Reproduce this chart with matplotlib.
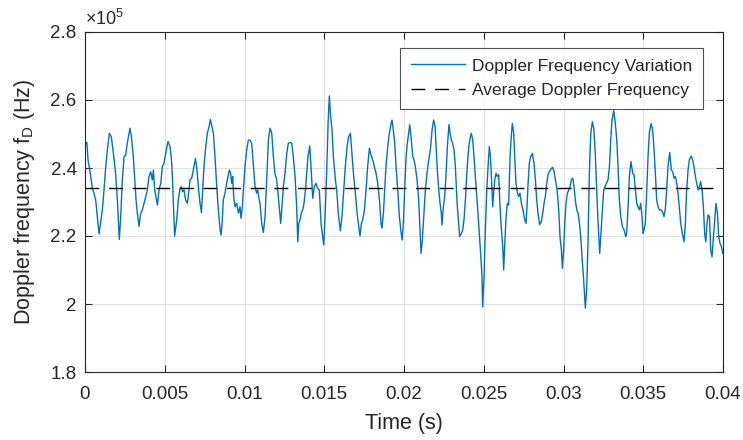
import numpy as np
import matplotlib
matplotlib.use("Agg")
import matplotlib.pyplot as plt
from matplotlib.ticker import FuncFormatter, FixedLocator

# ---- data (time in ms, frequency in units of 1e5 Hz) ----
time_ms = [
    0.00, 0.04, 0.12, 0.19, 0.36, 0.46, 0.56, 0.67, 0.77, 0.88, 1.09, 1.19, 1.30, 1.40, 1.53,
    1.65, 1.78, 1.92, 2.03, 2.15, 2.24, 2.34, 2.45, 2.55, 2.65, 2.82, 2.91, 3.03, 3.11, 3.20,
    3.28, 3.39, 3.49, 3.60, 3.70, 3.80, 3.91, 4.01, 4.12, 4.22, 4.29, 4.37, 4.45, 4.54, 4.64,
    4.75, 4.85, 4.95, 5.06, 5.20, 5.33, 5.41, 5.48, 5.54, 5.62, 5.75, 5.85, 5.96, 6.04, 6.12,
    6.21, 6.31, 6.42, 6.52,
    6.58, 6.69, 6.79, 6.92, 7.00, 7.11, 7.21, 7.30, 7.38, 7.46, 7.57, 7.67, 7.78, 7.86, 7.96,
    8.05, 8.15, 8.26, 8.36, 8.47, 8.53, 8.61, 8.67, 8.78, 8.88, 8.97, 9.05, 9.13, 9.20, 9.26,
    9.32, 9.41, 9.51, 9.62, 9.72, 9.78, 9.87, 9.93, 10.03, 10.14, 10.24, 10.35, 10.45, 10.56,
    10.66, 10.76, 10.83, 10.89, 10.97, 11.08, 11.18, 11.29, 11.39, 11.50, 11.60, 11.71, 11.81,
    11.91, 12.02, 12.12, 12.23, 12.27, 12.35, 12.44, 12.54, 12.65, 12.75, 12.85, 12.96, 13.06,
    13.17, 13.27,
    13.34, 13.40, 13.48, 13.56, 13.65, 13.73, 13.82, 13.90, 13.98, 14.09, 14.17, 14.28, 14.38,
    14.48, 14.59, 14.69, 14.80, 14.90, 14.97, 15.05, 15.15, 15.24, 15.32, 15.40, 15.49, 15.57,
    15.70, 15.78, 15.88, 16.01, 16.11, 16.22, 16.32, 16.43, 16.53, 16.64, 16.72, 16.83, 16.95,
    17.06, 17.16, 17.24, 17.33, 17.41, 17.52, 17.62, 17.72, 17.83, 17.93, 18.04, 18.14, 18.25,
    18.35, 18.46, 18.56, 18.62, 18.71, 18.79, 18.87, 18.98, 19.08, 19.19, 19.25, 19.33, 19.42,
    19.50, 19.61, 19.71, 19.81,
    19.88, 19.96, 20.04, 20.13, 20.21, 20.29, 20.36, 20.44, 20.55, 20.63, 20.71, 20.82, 20.92,
    21.01, 21.07, 21.15, 21.24, 21.34, 21.44, 21.55, 21.65, 21.76, 21.86, 21.95, 22.01, 22.09,
    22.18, 22.26, 22.34, 22.38, 22.47, 22.55, 22.64, 22.72, 22.82, 22.89, 22.97, 23.05, 23.14,
    23.22, 23.33, 23.43, 23.49, 23.60, 23.68, 23.76, 23.85, 23.95, 24.06, 24.16, 24.22, 24.31,
    24.39, 24.47, 24.58, 24.68, 24.79, 24.89, 24.93, 25.02, 25.10, 25.19, 25.27, 25.35, 25.42,
    25.48, 25.56, 25.62, 25.69, 25.77, 25.85, 25.94, 26.00, 26.08, 26.19, 26.25, 26.31, 26.40,
    26.48, 26.56,
    26.59, 26.65, 26.71, 26.79, 26.88, 26.94, 27.02, 27.11, 27.19, 27.27, 27.36, 27.46, 27.57,
    27.65, 27.71, 27.78, 27.86, 27.94, 28.05, 28.15, 28.24, 28.32, 28.40, 28.51, 28.61, 28.70,
    28.78, 28.86, 28.95, 29.03, 29.11, 29.24, 29.32, 29.41, 29.49, 29.60, 29.70, 29.78, 29.87,
    29.93, 30.01, 30.08, 30.16, 30.24, 30.33, 30.41, 30.49, 30.58, 30.66, 30.74, 30.83, 30.91,
    31.00, 31.08, 31.16, 31.25, 31.33, 31.37, 31.45, 31.54, 31.62, 31.71, 31.81, 31.91, 32.00,
    32.08, 32.17, 32.27, 32.35, 32.44, 32.52, 32.60, 32.69, 32.79, 32.88, 32.96, 33.04, 33.15,
    33.25, 33.34, 33.42, 33.50, 33.59, 33.69, 33.80, 33.90, 33.96, 34.05, 34.13, 34.23, 34.34,
    34.42, 34.51, 34.59, 34.67, 34.76, 34.84, 34.92, 34.99, 35.05, 35.13, 35.22, 35.30, 35.38,
    35.49, 35.59, 35.68, 35.76, 35.84, 35.93, 36.01, 36.09, 36.20, 36.30, 36.39, 36.47, 36.55,
    36.66, 36.76, 36.85, 36.93, 37.01, 37.10, 37.18, 37.26, 37.35, 37.45, 37.56, 37.64, 37.72,
    37.81, 37.89, 38.00, 38.10, 38.18, 38.27, 38.35, 38.44, 38.52, 38.60, 38.69, 38.77, 38.85,
    38.92, 39.00, 39.06, 39.15, 39.23, 39.31, 39.40, 39.48, 39.56, 39.65, 39.73, 39.81, 39.90,
    39.98,
]
freq_1e5 = [
    2.450, 2.475, 2.475, 2.424, 2.375, 2.340, 2.326, 2.306, 2.257, 2.206, 2.277, 2.335, 2.404,
    2.453, 2.502, 2.492, 2.443, 2.384, 2.306, 2.190, 2.257, 2.365, 2.433, 2.438, 2.473, 2.517,
    2.492, 2.433, 2.375, 2.306, 2.267, 2.228, 2.267, 2.277, 2.296, 2.316, 2.335, 2.375, 2.389,
    2.365, 2.394, 2.335, 2.316, 2.291, 2.335, 2.355, 2.404, 2.414, 2.443, 2.478, 2.463, 2.433,
    2.375, 2.296, 2.200, 2.247, 2.306, 2.340, 2.345, 2.330, 2.335, 2.306, 2.296, 2.335,
    2.365, 2.370, 2.394, 2.428, 2.404, 2.345, 2.296, 2.269, 2.335, 2.404, 2.463, 2.502, 2.522,
    2.543, 2.522, 2.502, 2.433, 2.345, 2.277, 2.218, 2.203, 2.247, 2.306, 2.326, 2.355, 2.375,
    2.394, 2.384, 2.355, 2.375, 2.316, 2.286, 2.296, 2.267, 2.286, 2.252, 2.286, 2.335, 2.404,
    2.453, 2.482, 2.482, 2.473, 2.404, 2.345, 2.326, 2.335, 2.316, 2.296, 2.237, 2.210, 2.257,
    2.365, 2.482, 2.517, 2.502, 2.433, 2.384, 2.365, 2.316, 2.257, 2.237, 2.286, 2.345, 2.384,
    2.443, 2.473, 2.475, 2.473, 2.433, 2.375, 2.286,
    2.183, 2.237, 2.247, 2.267, 2.277, 2.296, 2.335, 2.384, 2.433, 2.465, 2.404, 2.311, 2.345,
    2.355, 2.340, 2.335, 2.237, 2.198, 2.174, 2.257, 2.384, 2.531, 2.612, 2.551, 2.512, 2.433,
    2.365, 2.335, 2.267, 2.215, 2.257, 2.335, 2.404, 2.463, 2.492, 2.502, 2.453, 2.384, 2.326,
    2.267, 2.228, 2.200, 2.237, 2.247, 2.277, 2.335, 2.404, 2.458, 2.438, 2.424, 2.404, 2.384,
    2.355, 2.306, 2.237, 2.223, 2.267, 2.335, 2.404, 2.463, 2.502, 2.531, 2.541, 2.512, 2.473,
    2.404, 2.335, 2.257, 2.213,
    2.188, 2.237, 2.335, 2.433, 2.473, 2.502, 2.527, 2.492, 2.433, 2.424, 2.404, 2.365, 2.306,
    2.208, 2.149, 2.188, 2.257, 2.335, 2.384, 2.424, 2.453, 2.512, 2.541, 2.522, 2.463, 2.394,
    2.335, 2.296, 2.267, 2.232, 2.286, 2.316, 2.384, 2.463, 2.528, 2.502, 2.482, 2.473, 2.453,
    2.404, 2.296, 2.237, 2.198, 2.208, 2.218, 2.247, 2.306, 2.394, 2.463, 2.492, 2.502, 2.482,
    2.433, 2.375, 2.306, 2.237, 2.159, 2.081, 1.992, 2.081, 2.218, 2.335, 2.404, 2.463, 2.433,
    2.375, 2.286, 2.326, 2.365, 2.384, 2.375, 2.380, 2.306, 2.237, 2.169, 2.100, 2.169, 2.257,
    2.296, 2.291,
    2.335, 2.433, 2.482, 2.531, 2.502, 2.433, 2.355, 2.326, 2.316, 2.326, 2.296, 2.277, 2.247,
    2.237, 2.286, 2.355, 2.414, 2.433, 2.443, 2.414, 2.365, 2.306, 2.267, 2.233, 2.242, 2.267,
    2.296, 2.316, 2.355, 2.380, 2.389, 2.399, 2.402, 2.389, 2.365, 2.335, 2.277, 2.198, 2.159,
    2.105, 2.159, 2.237, 2.296, 2.326, 2.335, 2.345, 2.365, 2.370, 2.345, 2.306, 2.277, 2.267,
    2.237, 2.198, 2.139, 2.081, 2.022, 1.988, 2.041, 2.188, 2.384, 2.502, 2.536, 2.512, 2.433,
    2.335, 2.237, 2.149, 2.208, 2.277, 2.335, 2.345, 2.355, 2.365, 2.404, 2.482, 2.541, 2.569,
    2.531, 2.482, 2.404, 2.306, 2.257, 2.228, 2.218, 2.198, 2.208, 2.286, 2.375, 2.419, 2.384,
    2.380, 2.335, 2.296, 2.286, 2.277, 2.296, 2.257, 2.208, 2.218, 2.237, 2.335, 2.433, 2.502,
    2.531, 2.512, 2.453, 2.384, 2.306, 2.286, 2.277, 2.277, 2.272, 2.257, 2.282, 2.335, 2.404,
    2.446, 2.394, 2.389, 2.370, 2.375, 2.355, 2.326, 2.286, 2.237, 2.208, 2.183, 2.237, 2.335,
    2.394, 2.424, 2.435, 2.424, 2.404, 2.375, 2.355, 2.335, 2.345, 2.360, 2.335, 2.286, 2.208,
    2.183, 2.237, 2.262, 2.257, 2.159, 2.139, 2.198, 2.247, 2.296, 2.267, 2.198, 2.179, 2.169,
    2.149,
]
average_freq_1e5 = 2.34

x_ticks = [0, 0.005, 0.01, 0.015, 0.02, 0.025, 0.03, 0.035, 0.04]
y_ticks_1e5 = [1.8, 2.0, 2.2, 2.4, 2.6, 2.8]

series_label = 'Doppler Frequency Variation'
average_label = 'Average Doppler Frequency'

# ---- style ----
plt.rcParams['font.family'] = ['Liberation Sans', 'DejaVu Sans']
plt.rcParams['mathtext.fontset'] = 'custom'
plt.rcParams['mathtext.rm'] = 'Liberation Sans'
plt.rcParams['mathtext.it'] = 'Liberation Sans'
dark = '#262626'

fig = plt.figure(figsize=(7.43, 4.40), dpi=100)
ax = fig.add_axes([85 / 743, 1 - 372 / 440, (723 - 85) / 743, (372 - 32) / 440])

t = np.array(time_ms) * 1e-3
f = np.array(freq_1e5) * 1e5
ax.plot(t, f, color=(0.0, 0.447, 0.741), lw=1.0, label=series_label)
ax.axhline(average_freq_1e5 * 1e5, color='black', lw=1.0,
           linestyle=(0, (10, 7)), label=average_label)

ax.set_xlim(x_ticks[0], x_ticks[-1])
ax.set_ylim(y_ticks_1e5[0] * 1e5, y_ticks_1e5[-1] * 1e5)
ax.xaxis.set_major_locator(FixedLocator(x_ticks))
ax.yaxis.set_major_locator(FixedLocator([v * 1e5 for v in y_ticks_1e5]))
ax.xaxis.set_major_formatter(FuncFormatter(lambda v, p: '%g' % round(v, 4)))
ax.yaxis.set_major_formatter(FuncFormatter(lambda v, p: '%g' % round(v / 1e5, 2)))

ax.grid(True, color='#e2e2e2', lw=0.8)
ax.set_axisbelow(True)
for s in ax.spines.values():
    s.set_color(dark)
    s.set_linewidth(0.8)
ax.tick_params(direction='in', length=5, width=0.8, top=True, right=True,
               colors=dark, labelsize=13.5)
ax.tick_params(axis='x', pad=10)
ax.tick_params(axis='y', pad=6)

ax.set_xlabel('Time (s)', fontsize=15.5, color=dark, labelpad=7)
ax.set_ylabel('Doppler frequency f$_\\mathregular{D}$ (Hz)', fontsize=15.5, color=dark, labelpad=10)
ax.text(0.0, 1.008, '\u00d710$^\\mathregular{5}$', transform=ax.transAxes,
        fontsize=13, color=dark, ha='left', va='bottom')

leg = ax.legend(loc='upper right', bbox_to_anchor=((703 - 85) / 638, 1 - (48 - 32) / 340),
                fontsize=12.5, frameon=True, fancybox=False, edgecolor=dark,
                handlelength=3.1, borderpad=0.6, labelspacing=0.55, handletextpad=0.45,
                borderaxespad=0.0)
leg.get_frame().set_linewidth(0.8)
for txt in leg.get_texts():
    txt.set_color(dark)

fig.savefig('out.png', dpi=100)
